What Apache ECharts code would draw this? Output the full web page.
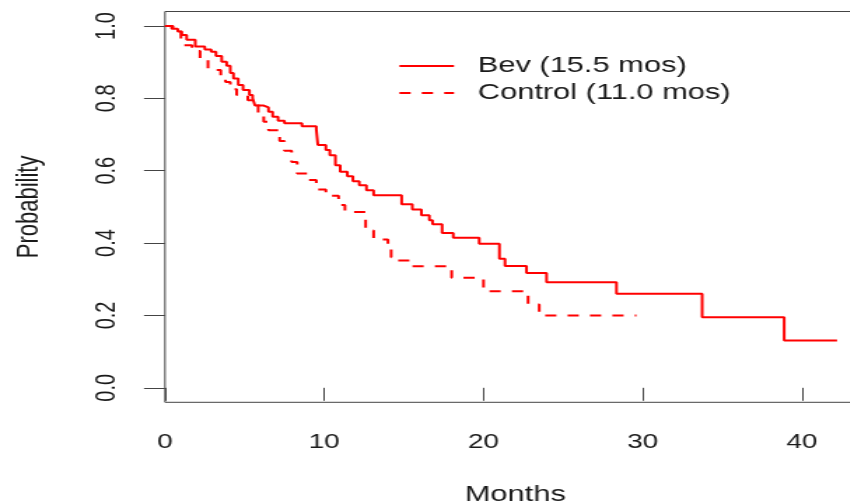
<!DOCTYPE html>
<html>
<head>
<meta charset="utf-8">
<script src="https://cdn.jsdelivr.net/npm/echarts@6/dist/echarts.min.js"></script>
<style>
  html, body { margin: 0; padding: 0; background: #fff; overflow: hidden; }
  #wrap { width: 850px; height: 504px; overflow: hidden; }
  #chart { height: 504px; transform-origin: 0 0; }
</style>
</head>
<body>
<div id="wrap"><div id="chart"></div></div>
<script>
// ---- data ----
const bevName = 'Bev (15.5 mos)';
const ctrlName = 'Control (11.0 mos)';
const bevTimes = [0, 0.42, 0.8, 1.05, 1.36, 1.9, 2.5, 2.9, 3.2, 3.56, 3.87, 4.1, 4.3, 4.6, 4.9, 5.3, 5.5, 5.65, 6.2, 6.5, 6.76, 7.1, 7.5, 8.6, 9.5, 9.6, 10.1, 10.35, 10.7, 11.0, 11.45, 11.8, 12.2, 12.65, 13.1, 14.86, 15.53, 16.1, 16.6, 16.8, 17.4, 18.1, 19.73, 21.0, 21.35, 22.7, 23.96, 28.35, 33.73, 38.88, 42.2];
const bevSurv  = [1.0, 0.992, 0.985, 0.975, 0.962, 0.943, 0.935, 0.929, 0.917, 0.901, 0.89, 0.87, 0.855, 0.837, 0.823, 0.809, 0.80, 0.78, 0.775, 0.763, 0.749, 0.738, 0.731, 0.723, 0.714, 0.671, 0.657, 0.643, 0.615, 0.597, 0.585, 0.571, 0.56, 0.546, 0.532, 0.507, 0.493, 0.477, 0.463, 0.452, 0.428, 0.415, 0.398, 0.357, 0.337, 0.317, 0.292, 0.260, 0.195, 0.131, 0.131];
const ctrlTimes = [0, 0.5, 1.0, 1.1, 1.7, 2.2, 2.7, 3.5, 3.8, 4.1, 4.5, 5.2, 5.85, 6.2, 6.5, 7.2, 7.5, 7.95, 8.3, 9.0, 9.5, 10.1, 10.9, 11.3, 12.6, 13.1, 14.0, 14.2, 14.5, 15.5, 18.0, 20.0, 22.8, 23.5, 29.6];
const ctrlSurv  = [1.0, 0.985, 0.965, 0.947, 0.931, 0.906, 0.878, 0.86, 0.845, 0.825, 0.809, 0.795, 0.757, 0.735, 0.712, 0.682, 0.655, 0.624, 0.592, 0.574, 0.548, 0.531, 0.505, 0.486, 0.435, 0.41, 0.394, 0.361, 0.352, 0.336, 0.304, 0.267, 0.23, 0.20, 0.20];
const xTicks = [0, 10, 20, 30, 40];
const yTicks = [0, 0.2, 0.4, 0.6, 0.8, 1.0];

// ---- layout (reference is horizontally stretched) ----
const SX = 1.4;
const W = 850 / SX;
const el = document.getElementById('chart');
el.style.width = W + 'px';
el.style.transform = 'scaleX(' + SX + ')';

const xMax = 44;
const gridLeft = 165 / SX;
const pxPerMonth = 15.925 / SX;
const gridWidth = xMax * pxPerMonth;

const zip = (a, b) => a.map((v, i) => [v, b[i]]);
const txt = '#1a1a1a';
const lineCol = '#444';
const font = 'Liberation Sans, Arial, sans-serif';

const chart = echarts.init(el, null, { renderer: 'canvas' });
chart.setOption({
  animation: false,
  backgroundColor: '#fff',
  grid: {
    show: true, borderColor: lineCol, borderWidth: 1,
    left: gridLeft, width: gridWidth, top: 11.5, height: 390.8,
    containLabel: false, outerBoundsMode: 'none'
  },
  legend: {
    orient: 'vertical', left: 398 / SX, top: 55, itemGap: 5, padding: 0,
    itemWidth: 39, itemHeight: 14,
    itemStyle: { opacity: 0 },
    textStyle: { color: txt, fontSize: 22, fontFamily: font, padding: [0, 0, 0, 12] },
    data: [bevName, ctrlName]
  },
  xAxis: {
    type: 'value', min: 0, max: xMax, interval: 10,
    name: 'Months', nameLocation: 'middle', nameGap: 82,
    nameTextStyle: { color: txt, fontSize: 22, fontFamily: font },
    axisLine: { show: false },
    axisTick: { show: true, length: 13, lineStyle: { color: lineCol }, customValues: xTicks },
    axisLabel: { color: txt, fontSize: 20, fontFamily: font, margin: 30, customValues: xTicks },
    splitLine: { show: false }
  },
  yAxis: {
    type: 'value', min: -0.04, max: 1.04,
    name: 'Probability', nameLocation: 'middle', nameGap: 86,
    nameTextStyle: { color: txt, fontSize: 22, fontFamily: font },
    axisLine: { show: false },
    axisTick: { show: true, length: 15, lineStyle: { color: lineCol }, customValues: yTicks },
    axisLabel: { color: txt, fontSize: 20, fontFamily: font, margin: 31, rotate: 90,
      customValues: yTicks, formatter: v => v.toFixed(1) },
    splitLine: { show: false }
  },
  series: [
    {
      name: bevName, type: 'line', step: 'end', symbol: 'none',
      lineStyle: { color: '#ff0000', width: 2, type: 'solid' },
      itemStyle: { color: '#ff0000' },
      data: zip(bevTimes, bevSurv)
    },
    {
      name: ctrlName, type: 'line', step: 'end', symbol: 'none',
      lineStyle: { color: '#ff0000', width: 2, type: [8, 8] },
      itemStyle: { color: '#ff0000' },
      data: zip(ctrlTimes, ctrlSurv)
    }
  ]
});
</script>
</body>
</html>
